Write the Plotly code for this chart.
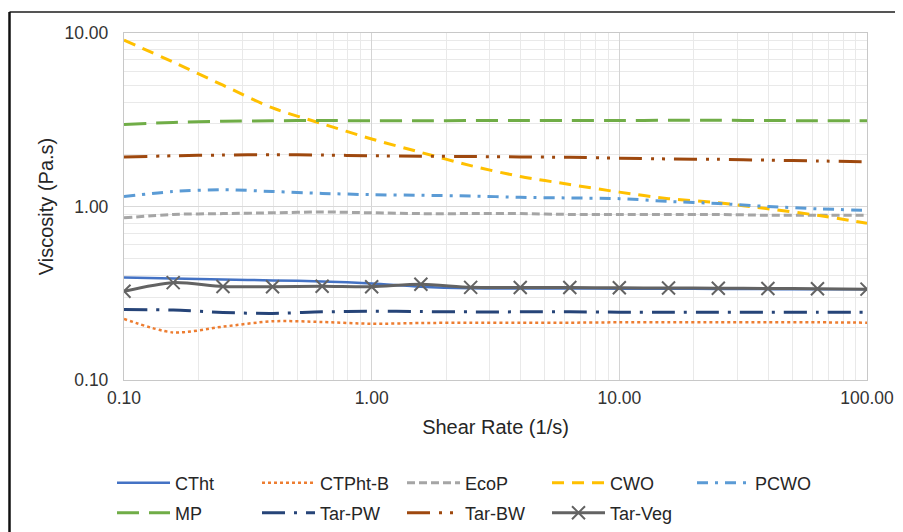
import plotly.graph_objects as go

shear_rate = [0.1, 0.158, 0.251, 0.398, 0.631, 1.0, 1.58, 2.51, 3.98, 6.31,
              10.0, 15.8, 25.1, 39.8, 63.1, 100.0]

ctht = [0.39, 0.385, 0.38, 0.375, 0.37, 0.36, 0.345, 0.338, 0.337, 0.337,
        0.336, 0.336, 0.335, 0.334, 0.333, 0.333]
ctpht_b = [0.225, 0.188, 0.203, 0.218, 0.216, 0.211, 0.213, 0.214, 0.214, 0.214,
           0.215, 0.215, 0.215, 0.215, 0.215, 0.214]
ecop = [0.86, 0.90, 0.91, 0.92, 0.93, 0.92, 0.91, 0.91, 0.91, 0.90,
        0.90, 0.90, 0.90, 0.89, 0.89, 0.89]
cwo = [9.1, 6.8, 5.0, 3.7, 3.0, 2.45, 2.05, 1.72, 1.49, 1.34,
       1.21, 1.11, 1.05, 0.97, 0.89, 0.80]
pcwo = [1.14, 1.22, 1.25, 1.22, 1.19, 1.17, 1.16, 1.15, 1.13, 1.12,
        1.11, 1.07, 1.04, 1.00, 0.97, 0.95]
mp = [2.97, 3.05, 3.10, 3.12, 3.13, 3.12, 3.12, 3.13, 3.13, 3.13,
      3.13, 3.14, 3.14, 3.13, 3.12, 3.12]
tar_pw = [0.255, 0.253, 0.245, 0.242, 0.247, 0.249, 0.248, 0.247, 0.247, 0.247,
          0.246, 0.246, 0.246, 0.246, 0.246, 0.246]
tar_bw = [1.93, 1.96, 1.98, 1.99, 1.98, 1.96, 1.95, 1.94, 1.93, 1.92,
          1.90, 1.88, 1.87, 1.85, 1.83, 1.81]
tar_veg = [0.325, 0.364, 0.346, 0.345, 0.347, 0.345, 0.356, 0.342, 0.341, 0.341,
           0.340, 0.339, 0.338, 0.337, 0.336, 0.334]

x_ticks = [0.1, 1, 10, 100]
x_tick_labels = ["0.10", "1.00", "10.00", "100.00"]
y_ticks = [0.1, 1, 10]
y_tick_labels = ["0.10", "1.00", "10.00"]

series = [
    ("CTht", ctht, "#4472C4", "solid", 2.5, "legend"),
    ("CTPht-B", ctpht_b, "#ED7D31", "dot", 2.5, "legend"),
    ("EcoP", ecop, "#A5A5A5", "8px,4px", 3, "legend"),
    ("CWO", cwo, "#FFC000", "12px,8px", 3, "legend"),
    ("PCWO", pcwo, "#5B9BD5", "11px,7px,3px,7px", 3, "legend"),
    ("MP", mp, "#70AD47", "22px,10px", 3, "legend2"),
    ("Tar-PW", tar_pw, "#264478", "23px,9px,3px,9px", 3, "legend2"),
    ("Tar-BW", tar_bw, "#9E480E", "23px,9px,3px,8px,3px,9px", 3, "legend2"),
]

FONT = "Liberation Sans, Arial, sans-serif"

fig = go.Figure()
for name, vals, color, dash, w, lg in series:
    fig.add_trace(go.Scatter(
        x=shear_rate, y=vals, name=name, mode="lines", legend=lg,
        line=dict(color=color, dash=dash, width=w, shape="spline", smoothing=0.8),
    ))

fig.add_trace(go.Scatter(
    x=shear_rate, y=tar_veg, name="Tar-Veg", mode="lines+markers", legend="legend2",
    line=dict(color="#636363", width=3, shape="spline", smoothing=0.8),
    marker=dict(symbol="x-thin", size=13, line=dict(color="#636363", width=2)),
))

# page body has an 8px margin, so the figure is drawn at (8, 8)
OFF = 8
L, R, T, B = 116, 36, 25, 151.6
W, H = 895, 524
pw, ph = W - L - R, H - T - B


def px_x(p):
    return (p - OFF - L) / pw


def px_y(p):
    return (H - B - (p - OFF)) / ph


fig.add_shape(type="line", xref="paper", yref="paper",
              x0=px_x(9.5), x1=px_x(915), y0=px_y(12), y1=px_y(12),
              line=dict(color="#555555", width=2))
fig.add_shape(type="line", xref="paper", yref="paper",
              x0=px_x(9.5), x1=px_x(9.5), y0=px_y(12), y1=px_y(545),
              line=dict(color="#111111", width=2.5))

leg_common = dict(
    orientation="h", xanchor="left", yanchor="top",
    entrywidth=77, entrywidthmode="pixels", itemwidth=53,
    font=dict(family=FONT, size=18, color="#262626"),
    bgcolor="rgba(0,0,0,0)",
)

fig.update_layout(
    width=W, height=H,
    margin=dict(l=L, r=R, t=T, b=B, autoexpand=False),
    paper_bgcolor="white", plot_bgcolor="white",
    font=dict(family=FONT, size=17.5, color="#404040"),
    showlegend=True,
    legend=dict(x=px_x(112), y=px_y(465), **leg_common),
    legend2=dict(x=px_x(112), y=px_y(495), **leg_common),
)

fig.update_xaxes(
    type="log", range=[-1, 2],
    tickvals=x_ticks, ticktext=x_tick_labels,
    showgrid=True, gridcolor="#D4D4D4", gridwidth=1.3,
    minor=dict(showgrid=True, gridcolor="#E9E9E9", gridwidth=1.3, dtick="D1", ticks=""),
    showline=True, linecolor="#C8C8C8", linewidth=1.3, mirror=True,
    ticks="", ticklabelstandoff=2, zeroline=False,
    tickfont=dict(size=17.5, color="#333333"),
    title=dict(text="Shear Rate (1/s)", standoff=12,
               font=dict(size=20, color="#262626")),
)
fig.update_yaxes(
    type="log", range=[-1, 1],
    tickvals=y_ticks, ticktext=y_tick_labels,
    showgrid=True, gridcolor="#D9D9D9", gridwidth=1.3,
    minor=dict(showgrid=True, gridcolor="#E9E9E9", gridwidth=1.3, dtick="D1", ticks=""),
    showline=True, linecolor="#C8C8C8", linewidth=1.3, mirror=True,
    ticks="", ticklabelstandoff=11, zeroline=False,
    tickfont=dict(size=17.5, color="#333333"),
    title=dict(text="Viscosity (Pa.s)", standoff=5,
               font=dict(size=20, color="#262626")),
)

fig.write_html("out.html")
